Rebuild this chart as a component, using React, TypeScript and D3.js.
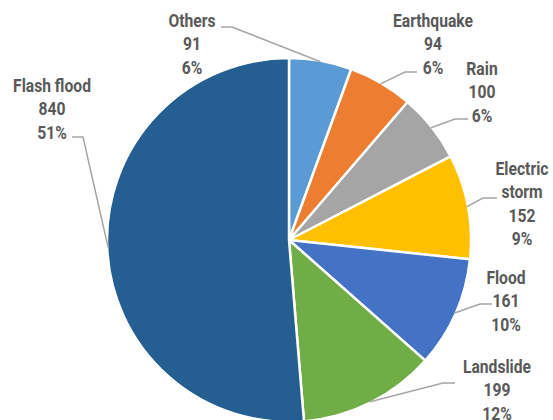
import React from "react";
import * as d3 from "d3";

const categories = ["Others", "Earthquake", "Rain", "Electric storm", "Flood", "Landslide", "Flash flood"];
const values = [91, 94, 100, 152, 161, 199, 840];
const percentLabels = ["6%", "6%", "6%", "9%", "10%", "12%", "51%"];
const colors = ["#5B9BD5", "#ED7D31", "#A5A5A5", "#FFC000", "#4472C4", "#70AD47", "#255E91"];

const labelLayout: Record<string, { x: number; y: number; lines: string[]; hx1: number; hx2: number; hy: number }> = {
  "Others": { x: 192, y: 27, lines: ["Others"], hx1: 221, hx2: 232, hy: 27 },
  "Earthquake": { x: 433, y: 27, lines: ["Earthquake"], hx1: 417, hx2: 405, hy: 72 },
  "Rain": { x: 482, y: 75, lines: ["Rain"], hx1: 468, hx2: 455, hy: 119 },
  "Electric storm": { x: 522, y: 175, lines: ["Electric", "storm"], hx1: 497, hx2: 483, hy: 198 },
  "Flood": { x: 506, y: 284, lines: ["Flood"], hx1: 492, hx2: 480, hy: 304 },
  "Landslide": { x: 497, y: 373, lines: ["Landslide"], hx1: 455, hx2: 443, hy: 383 },
  "Flash flood": { x: 52, y: 92, lines: ["Flash flood"], hx1: 72, hx2: 83, hy: 137 },
};

const W = 553;
const H = 420;
const cx = 289;
const cy = 240;
const R = 182;

export default function App() {
  const data = categories.map((c, i) => ({ c, v: values[i], p: percentLabels[i], color: colors[i] }));
  const pie = d3.pie<any>().value((d) => d.v).sort(null);
  const arcs = pie(data);
  const arcGen = d3.arc<any>().innerRadius(0).outerRadius(R);
  const leaderArc = d3.arc<any>().innerRadius(R - 1).outerRadius(R - 1);

  return (
    <svg width={W} height={H} style={{ position: "absolute", left: 0, top: 0, background: "#fff" }}>
      <g transform={`translate(${cx},${cy})`}>
        {arcs.map((a, i) => (
          <path key={i} d={arcGen(a) as string} fill={a.data.color} stroke="#fff" strokeWidth={2.5} strokeLinejoin="round" />
        ))}
      </g>
      {arcs.map((a, i) => {
        const L = labelLayout[a.data.c];
        const [ex, ey] = leaderArc.centroid(a);
        return (
          <polyline
            key={"l" + i}
            points={`${L.hx1},${L.hy} ${L.hx2},${L.hy} ${cx + ex},${cy + ey}`}
            fill="none"
            stroke="#A6A6A6"
            strokeWidth={1.5}
          />
        );
      })}
      {arcs.map((a, i) => {
        const L = labelLayout[a.data.c];
        const lines = [...L.lines, String(a.data.v), a.data.p];
        return (
          <g key={"t" + i} transform={`translate(${L.x},0) scale(0.87,1)`}>
            <text
              textAnchor="middle"
              fill="#595959"
              fontFamily="Roboto, 'Liberation Sans', sans-serif"
              fontWeight="bold"
              fontSize={18}
            >
              {lines.map((s, j) => (
                <tspan key={j} x={0} y={L.y + j * 23.3}>
                  {s}
                </tspan>
              ))}
            </text>
          </g>
        );
      })}
    </svg>
  );
}
